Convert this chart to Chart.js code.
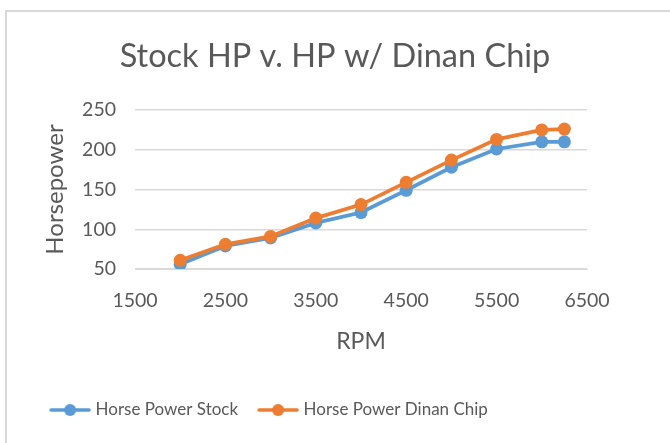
<!DOCTYPE html>
<html><head><meta charset="utf-8">
<script src="https://cdn.jsdelivr.net/npm/chart.js@4/dist/chart.umd.min.js"></script>
<style>
html,body{margin:0;padding:0;background:#fff;}
#wrap{position:relative;width:670px;height:443px;overflow:hidden;}
#frame{position:absolute;left:5px;top:10px;width:720px;height:500px;border:2px solid #d9d9d9;box-sizing:border-box;}
canvas{position:absolute;left:0;top:0;}
</style></head><body>
<div id="wrap"><div id="frame"></div><canvas id="c" width="670" height="443"></canvas></div>
<script>
const rpm = [2000, 2500, 3000, 3500, 4000, 4500, 5000, 5500, 6000, 6250];
const stockHP = [56, 79, 89, 108, 121, 149, 178, 201, 210, 210];
const dinanHP = [61, 81, 91, 114, 131, 159, 187, 213, 225, 226];
const seriesNames = ['Horse Power Stock', 'Horse Power Dinan Chip'];
const chartTitle = 'Stock HP v. HP w/ Dinan Chip';
const xTitle = 'RPM';
const yTitle = 'Horsepower';
const xRange = [1500, 6500];
const yRange = [50, 250];

const FONT = 'Lato, "Open Sans", sans-serif';
const TXT = '#595959';
const BLUE = '#5B9BD5';
const ORANGE = '#ED7D31';

function legendIcon(color) {
  const c = document.createElement('canvas');
  c.width = 42; c.height = 14;
  const g = c.getContext('2d');
  g.strokeStyle = color; g.lineWidth = 3.5; g.lineCap = 'round';
  g.beginPath(); g.moveTo(2, 7); g.lineTo(40, 7); g.stroke();
  g.fillStyle = color;
  g.beginPath(); g.arc(21, 7, 6, 0, Math.PI * 2); g.fill();
  return c;
}

const toPts = (xs, ys) => xs.map((x, i) => ({x: x, y: ys[i]}));

const shiftLegend = {
  id: 'shiftLegend',
  afterLayout(chart) {
    const lg = chart.legend;
    if (lg) { lg.left -= 64.5; lg.right -= 64.5; }
  }
};

new Chart(document.getElementById('c'), {
  type: 'line',
  data: {
    datasets: [
      {label: seriesNames[0], data: toPts(rpm, stockHP), borderColor: BLUE, backgroundColor: BLUE,
       borderWidth: 3.75, pointRadius: 6.5, pointHoverRadius: 6.5, pointBorderWidth: 0, order: 2,
       tension: 0, pointStyle: 'circle', legendIcon: legendIcon(BLUE)},
      {label: seriesNames[1], data: toPts(rpm, dinanHP), borderColor: ORANGE, backgroundColor: ORANGE,
       borderWidth: 3.75, pointRadius: 6.5, pointHoverRadius: 6.5, pointBorderWidth: 0, order: 1,
       tension: 0, pointStyle: 'circle', legendIcon: legendIcon(ORANGE)}
    ]
  },
  options: {
    responsive: false,
    animation: false,
    devicePixelRatio: 1,
    layout: {padding: {left: 0, right: 0, top: 0, bottom: 14.5}},
    scales: {
      x: {
        type: 'linear', min: xRange[0], max: xRange[1],
        grid: {display: false, drawTicks: false},
        border: {display: true, color: '#d9d9d9', width: 1},
        ticks: {stepSize: 1000, color: TXT, font: {family: FONT, size: 19.5}, padding: 20.3, maxRotation: 0,
                callback: v => String(v)},
        title: {display: true, text: xTitle, color: TXT, font: {family: FONT, size: 23}, padding: {top: 0, bottom: 22.7}},
        afterFit(s) { s.height = 109.5; }
      },
      y: {
        type: 'linear', min: yRange[0], max: yRange[1],
        grid: {color: '#d9d9d9', lineWidth: 1.5, drawTicks: false},
        border: {display: false},
        ticks: {stepSize: 50, color: TXT, font: {family: FONT, size: 19.5}, padding: 19, callback: v => String(v)},
        title: {display: true, text: yTitle, color: TXT, font: {family: FONT, size: 24}, padding: {top: 40.6, bottom: 0}},
        afterFit(s) { s.width = 135; }
      },
      pad: {
        type: 'linear', position: 'right', display: true,
        grid: {display: false}, border: {display: false}, ticks: {display: false},
        afterFit(s) { s.width = 83; }
      }
    },
    plugins: {
      title: {display: true, text: chartTitle, color: TXT, font: {family: FONT, size: 32.5, weight: 'normal'},
              padding: {top: 37.5, bottom: 33.5}},
      legend: {
        position: 'bottom',
        labels: {
          color: TXT, font: {family: FONT, size: 17}, padding: 23,
          usePointStyle: true, pointStyleWidth: 34,
          generateLabels(chart) {
            return chart.data.datasets.map((ds, i) => ({
              text: ds.label, fillStyle: ds.borderColor, strokeStyle: ds.borderColor,
              pointStyle: ds.legendIcon, fontColor: TXT, lineWidth: 0, hidden: false, datasetIndex: i
            }));
          }
        }
      },
      tooltip: {enabled: false}
    }
  },
  plugins: [shiftLegend]
});
</script>
</body></html>
